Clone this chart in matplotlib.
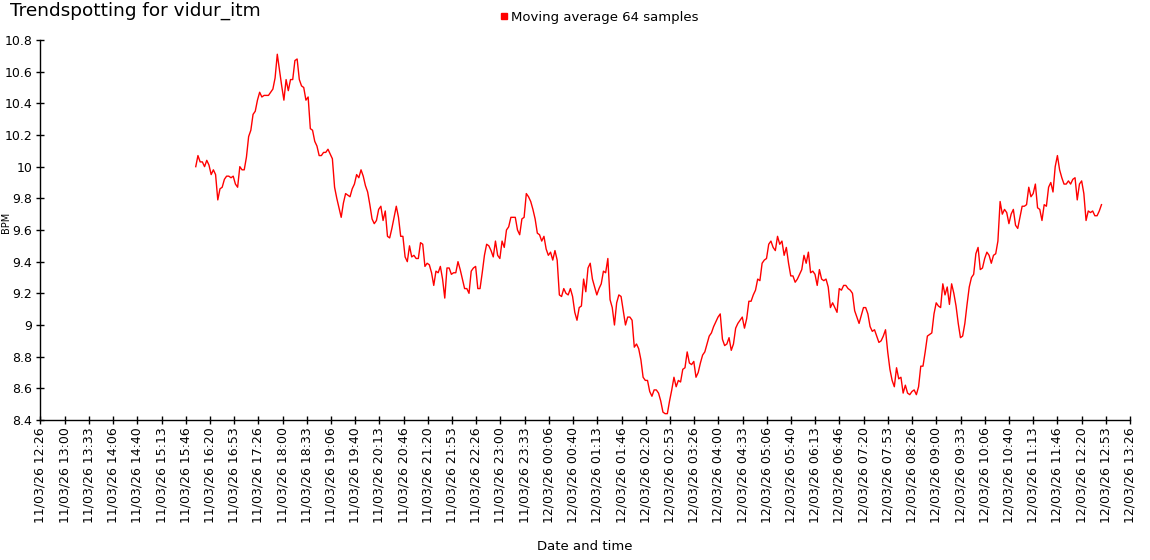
import matplotlib
matplotlib.use("Agg")
import matplotlib.pyplot as plt
import matplotlib.dates as mdates
from matplotlib.lines import Line2D
from matplotlib.ticker import FuncFormatter
import numpy as np
import pandas as pd

title = "Trendspotting for vidur_itm"
series_name = "Moving average 64 samples"
x_label = "Date and time"
y_label = "BPM"

# sample times (regular sampling between first and last sample)
first_sample = "2026-03-11 16:00:26"
last_sample = "2026-03-12 12:47:25"
axis_start = "2026-03-11 12:26:40"
axis_end = "2026-03-12 13:26:40"
tick_step = "2000s"

# moving average values in order
evening = [10.00, 10.07, 10.03, 10.03, 10.00, 10.04, 10.01, 9.95, 9.98, 9.95,
           9.79, 9.86, 9.87, 9.92, 9.94, 9.94, 9.93, 9.94, 9.89, 9.87,
           10.00, 9.98, 9.98, 10.06, 10.19, 10.23, 10.33, 10.35, 10.42, 10.47,
           10.44, 10.45, 10.45, 10.45, 10.47, 10.49, 10.56, 10.71, 10.61, 10.51,
           10.42, 10.55, 10.48, 10.55, 10.55, 10.67, 10.68, 10.55, 10.51, 10.50,
           10.42, 10.44, 10.24, 10.23, 10.16, 10.13, 10.07, 10.07, 10.09, 10.09,
           10.11, 10.08, 10.05, 9.87, 9.80, 9.74, 9.68, 9.77, 9.83, 9.82,
           9.81, 9.86, 9.89, 9.95, 9.93, 9.98, 9.94, 9.88, 9.84, 9.76,
           9.67]
night = [9.64, 9.66, 9.73, 9.75, 9.66, 9.72, 9.56, 9.55, 9.61, 9.68,
         9.75, 9.68, 9.56, 9.56, 9.43, 9.40, 9.50, 9.43, 9.44, 9.42,
         9.42, 9.52, 9.51, 9.37, 9.39, 9.38, 9.33, 9.25, 9.34, 9.33,
         9.37, 9.29, 9.17, 9.36, 9.36, 9.32, 9.33, 9.33, 9.40, 9.35,
         9.29, 9.23, 9.23, 9.20, 9.34, 9.36, 9.37, 9.23, 9.23, 9.33,
         9.44, 9.51, 9.50, 9.47, 9.43, 9.53, 9.44, 9.42, 9.53, 9.49,
         9.60, 9.62, 9.68, 9.68, 9.68, 9.60, 9.57, 9.67, 9.68, 9.83,
         9.81, 9.78, 9.73, 9.67, 9.58, 9.57, 9.53, 9.56, 9.48, 9.44,
         9.46, 9.41, 9.47, 9.41]
early = [9.19, 9.18, 9.23, 9.20, 9.19, 9.23, 9.18, 9.08, 9.03, 9.11,
         9.12, 9.29, 9.21, 9.36, 9.39, 9.29, 9.24, 9.19, 9.23, 9.26,
         9.34, 9.33, 9.42, 9.16, 9.11, 9.00, 9.14, 9.19, 9.18, 9.09,
         9.00, 9.05, 9.05, 9.03, 8.86]
dip = [8.88, 8.85, 8.78, 8.67, 8.65, 8.65, 8.58, 8.55, 8.59, 8.59,
       8.57, 8.52, 8.45, 8.44, 8.44, 8.52, 8.59, 8.67, 8.61, 8.65,
       8.64, 8.72, 8.73, 8.83, 8.76, 8.75, 8.77, 8.67, 8.70, 8.76,
       8.81, 8.83, 8.88]
dawn = [8.93, 8.95, 8.99, 9.02, 9.05, 9.07, 8.91, 8.87, 8.88, 8.92,
        8.84, 8.88, 8.98, 9.01, 9.03, 9.05, 8.98, 9.04, 9.15, 9.15,
        9.19, 9.22, 9.29]
morning = [9.28, 9.39, 9.41, 9.42, 9.51, 9.53, 9.49, 9.47, 9.56, 9.51,
           9.53, 9.44, 9.49, 9.39, 9.31, 9.31, 9.27, 9.29, 9.32, 9.35,
           9.44, 9.39, 9.46, 9.33, 9.34, 9.32, 9.25, 9.35, 9.29, 9.28,
           9.29, 9.24, 9.11, 9.14, 9.11, 9.08, 9.23, 9.22, 9.25, 9.25,
           9.23, 9.22, 9.20, 9.09, 9.05, 9.01, 9.06, 9.11, 9.11, 9.07,
           8.99, 8.96, 8.97, 8.93, 8.89, 8.90, 8.93, 8.97, 8.83, 8.72,
           8.65, 8.61, 8.73, 8.66, 8.67, 8.57, 8.62, 8.57, 8.56, 8.58,
           8.59, 8.56, 8.61, 8.74, 8.74, 8.83, 8.93, 8.94, 8.95, 9.07,
           9.14, 9.12, 9.11, 9.26, 9.19, 9.24]
midday = [9.13, 9.26, 9.20, 9.12, 9.01, 8.92, 8.93, 9.01, 9.13, 9.24,
          9.30, 9.32, 9.45, 9.49, 9.35, 9.36, 9.42, 9.46, 9.44, 9.39,
          9.44, 9.45, 9.53, 9.78, 9.70, 9.73, 9.71, 9.64, 9.70, 9.73,
          9.63, 9.61, 9.68, 9.75, 9.75, 9.76, 9.87, 9.81, 9.83, 9.89,
          9.74, 9.73, 9.66, 9.76, 9.75, 9.87, 9.90, 9.84, 10.00, 10.07,
          9.98, 9.93, 9.89, 9.89, 9.91, 9.89, 9.92, 9.93, 9.79, 9.89,
          9.91, 9.83, 9.66, 9.72, 9.71, 9.72, 9.69, 9.69, 9.72, 9.76]

values = evening + night + early + dip + dawn + morning + midday
times = pd.date_range(first_sample, last_sample, periods=len(values))
x_ticks = pd.date_range(axis_start, axis_end, freq=tick_step)
y_ticks = np.arange(8.4, 10.81, 0.2)

fig = plt.figure(figsize=(11.5, 5.6), dpi=100)
ax = fig.add_axes([0.0352, 0.25, 0.9474, 0.6786])

ax.plot(times, values, color="#ff0000", lw=1.0)

ax.set_xlim(pd.Timestamp(axis_start), pd.Timestamp(axis_end))
ax.set_ylim(8.4, 10.8)
ax.set_xticks(x_ticks)
ax.xaxis.set_major_formatter(mdates.DateFormatter("%d/%m/%y %H:%M"))
ax.set_yticks(y_ticks)
ax.yaxis.set_major_formatter(FuncFormatter(lambda v, _: f"{round(v, 1):g}"))
ax.tick_params(direction="inout", length=6, width=1, labelsize=9, colors="black")
ax.tick_params(axis="x", labelrotation=90, pad=2)
ax.tick_params(axis="y", pad=3)

for side in ["top", "right"]:
    ax.spines[side].set_visible(False)
for side in ["left", "bottom"]:
    ax.spines[side].set_linewidth(1)
    ax.spines[side].set_color("black")

ax.set_xlabel(x_label, fontsize=9.5, labelpad=12)

# y label squeezed into the narrow strip left of the tick labels
fig.text(1 / 1150, 1 - 222 / 560, y_label, fontsize=7, rotation=90,
         ha="left", va="center")

fig.text(10 / 1150, 1 - 11 / 560, title, fontsize=13.3, ha="left", va="center")

handle = Line2D([], [], color="#ff0000", marker="s", linestyle="None", markersize=5)
fig.legend([handle], [series_name], loc="center", bbox_to_anchor=(598 / 1150, 1 - 17 / 560),
           frameon=False, fontsize=9.5, handletextpad=0.0, handlelength=1.0, borderpad=0)

fig.savefig("out.png", dpi=100)
